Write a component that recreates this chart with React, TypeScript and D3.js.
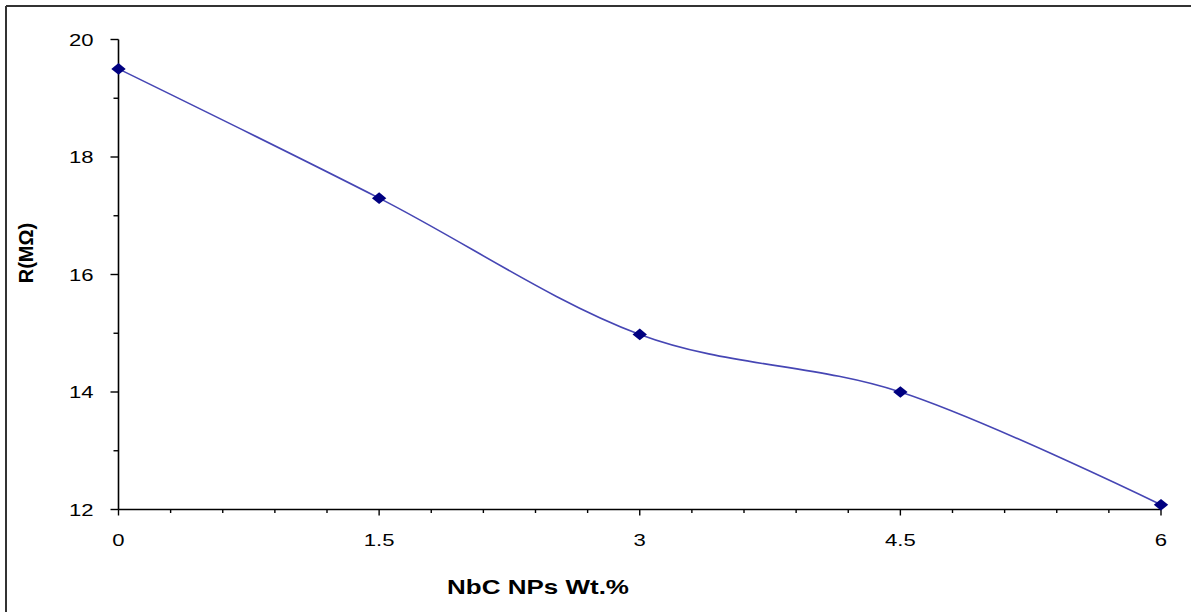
import React from "react";
import * as d3 from "d3";

const xValues = [0, 1.5, 3, 4.5, 6];
const rValues = [19.5, 17.3, 14.98, 14.0, 12.08];
const xTicks = [0, 1.5, 3, 4.5, 6];
const xTickLabels = ["0", "1.5", "3", "4.5", "6"];
const yTicks = [12, 14, 16, 18, 20];
const yTickLabels = ["12", "14", "16", "18", "20"];
const xTitle = "NbC NPs Wt.%";
const yTitle = "R(MΩ)";

const W = 1191;
const H = 612;
const SX = 1.3;
const FONT = "'Liberation Sans', Arial, sans-serif";

export default function App() {
  const x = d3.scaleLinear().domain([0, 6]).range([118.5, 1161]);
  const y = d3.scaleLinear().domain([12, 20]).range([509.5, 39.5]);

  const xMinor = d3.range(0, 6.0001, 0.3).map((v) => +v.toFixed(2)).filter((v) => !xTicks.some((t) => Math.abs(t - v) < 1e-6));
  const yMinor = d3.range(13, 20, 2);

  const line = d3
    .line<number>()
    .x((_, i) => x(xValues[i]))
    .y((d) => y(d))
    .curve(d3.curveCardinal.tension(0));

  const diamond = "M0,-5.8 L7.2,0 L0,5.8 L-7.2,0 Z";

  return (
    <div style={{ position: "absolute", left: 0, top: 0 }}>
      <svg width={W} height={H} style={{ display: "block", background: "#fff" }}>
        {/* outer frame */}
        <line x1={6} y1={6} x2={W} y2={6} stroke="#333" strokeWidth={2} />
        <line x1={6} y1={6} x2={6} y2={H} stroke="#333" strokeWidth={2} />

        {/* axes */}
        <line x1={x(0)} y1={y(20)} x2={x(0)} y2={y(12)} stroke="#000" strokeWidth={1.6} />
        <line x1={x(0)} y1={y(12)} x2={x(6)} y2={y(12)} stroke="#000" strokeWidth={1.6} />

        {yTicks.map((t) => (
          <line key={"yt" + t} x1={x(0) - 8} x2={x(0)} y1={y(t)} y2={y(t)} stroke="#000" strokeWidth={1.4} />
        ))}
        {yMinor.map((t) => (
          <line key={"ym" + t} x1={x(0) - 5} x2={x(0)} y1={y(t)} y2={y(t)} stroke="#000" strokeWidth={1.4} />
        ))}
        {xTicks.map((t) => (
          <line key={"xt" + t} x1={x(t)} x2={x(t)} y1={y(12)} y2={y(12) + 6} stroke="#000" strokeWidth={1.4} />
        ))}
        {xMinor.map((t) => (
          <line key={"xm" + t} x1={x(t)} x2={x(t)} y1={y(12)} y2={y(12) + 3.5} stroke="#000" strokeWidth={1.4} />
        ))}

        {yTicks.map((t, i) => (
          <g key={"yl" + t} transform={`translate(${x(0) - 25},${y(t) + 6}) scale(${SX},1)`}>
            <text textAnchor="end" fontFamily={FONT} fontSize={17} fill="#000">
              {yTickLabels[i]}
            </text>
          </g>
        ))}
        {xTicks.map((t, i) => (
          <g key={"xl" + t} transform={`translate(${x(t)},${y(12) + 36}) scale(${SX},1)`}>
            <text textAnchor="middle" fontFamily={FONT} fontSize={17} fill="#000">
              {xTickLabels[i]}
            </text>
          </g>
        ))}

        {/* titles */}
        <g transform={`translate(538,594) scale(${SX},1)`}>
          <text textAnchor="middle" fontFamily={FONT} fontSize={20} fontWeight="bold" fill="#000">
            {xTitle}
          </text>
        </g>
        <g transform={`translate(33,253) rotate(-90)`}>
          <text textAnchor="middle" fontFamily={FONT} fontSize={20} fontWeight="bold" fill="#000">
            {yTitle}
          </text>
        </g>

        {/* series */}
        <path d={line(rValues) || ""} fill="none" stroke="#4646b4" strokeWidth={1.6} />
        {rValues.map((v, i) => (
          <path key={"m" + i} d={diamond} transform={`translate(${x(xValues[i])},${y(v)})`} fill="#000080" />
        ))}
      </svg>
    </div>
  );
}
